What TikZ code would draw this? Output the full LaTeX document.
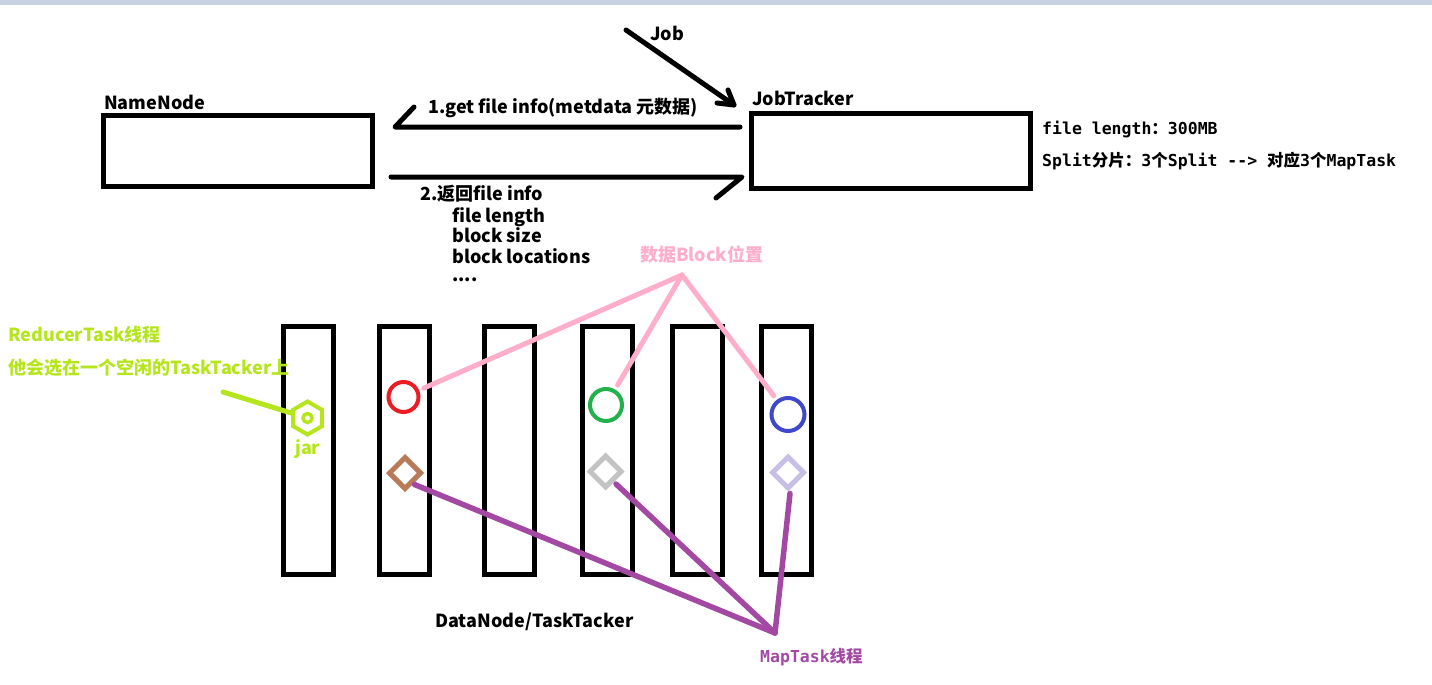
\documentclass[tikz,border=0pt]{standalone}
\usepackage{fontspec}
\setmainfont{Noto Sans CJK SC}
\setmonofont{DejaVu Sans Mono}
\newfontfamily\cjk{Noto Sans CJK SC}
\usetikzlibrary{shapes.geometric}
\definecolor{topband}{HTML}{C6D1E3}
\definecolor{blkred}{HTML}{ED1C24}
\definecolor{blkgreen}{HTML}{22B14C}
\definecolor{blkblue}{HTML}{3F48CC}
\definecolor{tskbrown}{HTML}{B97A57}
\definecolor{tskgrey}{HTML}{C3C3C3}
\definecolor{tsklav}{HTML}{C8BFE7}
\definecolor{blkpink}{HTML}{FFAEC9}
\definecolor{tskpurple}{HTML}{A349A4}
\definecolor{redlime}{HTML}{B5E61D}
\begin{document}
\begin{tikzpicture}[x=1pt,y=-1pt,
  nbox/.style={draw=black,line width=5pt,rectangle,inner sep=0pt},
  dncol/.style={draw=black,line width=5pt,inner sep=0pt,minimum width=50pt,minimum height=248pt},
  blk/.style={circle,draw,line width=4pt,inner sep=0pt},
  tsk/.style={diamond,draw,line width=5pt,inner sep=0pt,minimum size=33pt},
  lbl/.style={inner sep=0pt,anchor=base west,font=\fontsize{18}{22}\selectfont\bfseries},
  mono/.style={inner sep=0pt,anchor=base west,font=\fontsize{16.5}{19}\selectfont\ttfamily\bfseries},
  conn/.style={line width=5pt,line cap=round,line join=round}]
\useasboundingbox (0,0) rectangle (1432,685);
\fill[topband] (0,0) rectangle (1432,5);

% NameNode and JobTracker
\node[nbox,minimum width=269pt,minimum height=71pt] (nn) at (238,151) {};
\node[lbl] (nnl) at (104,109) {NameNode};
\node[nbox,minimum width=279pt,minimum height=75pt] (jt) at (891,151) {};
\node[lbl] (jtl) at (752,105) {JobTracker};
\node[mono] (flen) at (1042,134) {file length{\cjk\bfseries ：}300MB};
\node[mono] (splt) at (1042,166) {Split{\cjk\bfseries 分片：}3{\cjk\bfseries 个}Split --> {\cjk\bfseries 对应}3{\cjk\bfseries 个}MapTask};

% Job
\coordinate (jobin) at (626,30);
\coordinate (jobtip) at (734,105);
\node[lbl] (job) at (650,41) {Job};
\draw[conn] (jobin) -- (jobtip);
\draw[conn] (728,90) -- (jobtip) -- (717,103);

% get file info / return
\draw[conn] ([xshift=-9pt,yshift=24pt]jt.west) -- ([xshift=20pt,yshift=24pt]nn.east) coordinate (a1) -- ++(19,-20);
\node[lbl] (req) at (428,113) {1.get file info(metdata 元数据)};
\draw[conn] ([xshift=16pt,yshift=-26pt]nn.east) -- ([xshift=-7pt,yshift=-26pt]jt.west) coordinate (a2) -- ++(-26,21);
\node[lbl] (rsp) at (420,200) {2.返回file info};
\node[lbl] (rsp1) at (452,222) {file length};
\node[lbl] (rsp2) at (452,242) {block size};
\node[lbl] (rsp3) at (452,263) {block locations};
\node[lbl] (rsp4) at (452,281) {....};

% DataNode/TaskTacker
\foreach \n/\x in {1/308.5,2/404.5,3/509.5,4/607.5,5/697.5,6/786}
  \node[dncol] (dn\n) at (\x,450.5) {};
\node[lbl] (dnl) at (435,627) {DataNode/TaskTacker};

% blocks
\node[blk,draw=blkred,minimum size=30pt] (b1) at (403.5,397) {};
\node[blk,draw=blkgreen,minimum size=32pt] (b2) at (606,405) {};
\node[blk,draw=blkblue,minimum size=33pt] (b3) at (788,414.5) {};
\node[lbl,text=blkpink] (blkl) at (640,261) {数据Block位置};
\coordinate (blk) at (682,275);
\foreach \b in {b1,b2,b3}
  \draw[conn,blkpink,shorten >=5pt] (blk) -- (\b);

% map tasks
\node[tsk,draw=tskbrown] (t1) at (405,473) {};
\node[tsk,draw=tskgrey] (t2) at (605.5,471.5) {};
\node[tsk,draw=tsklav] (t3) at (788,472.5) {};
\coordinate (mt) at (775,633);
\node[mono,text=tskpurple] (mtl) at (760,662) {MapTask{\cjk\bfseries 线程}};
\draw[conn,tskpurple,line width=5.5pt] ([shift={(0pt,-2pt)}]t1.south east) -- (mt);
\draw[conn,tskpurple,line width=5.5pt] ([shift={(1pt,-3pt)}]t2.south east) -- (mt);
\draw[conn,tskpurple,line width=5.5pt] ([shift={(2pt,-2pt)}]t3.south) -- (mt);

% reducer
\node[regular polygon,regular polygon sides=6,shape border rotate=30,draw=redlime,line width=4pt,inner sep=0pt,minimum size=33pt] (hex) at (307.5,418) {};
\node[circle,draw=redlime,line width=3.5pt,inner sep=0pt,minimum size=9pt] (hexc) at (hex) {};
\node[lbl,text=redlime] (jar) at (295,454) {jar};
\node[lbl,text=redlime] (rtl) at (8,341) {ReducerTask线程};
\node[lbl,text=redlime] (rtl2) at (8,374) {他会选在一个空闲的TaskTacker上};
\coordinate (rt) at (223,392);
\draw[conn,redlime] (rt) -- (hex);
\end{tikzpicture}
\end{document}
